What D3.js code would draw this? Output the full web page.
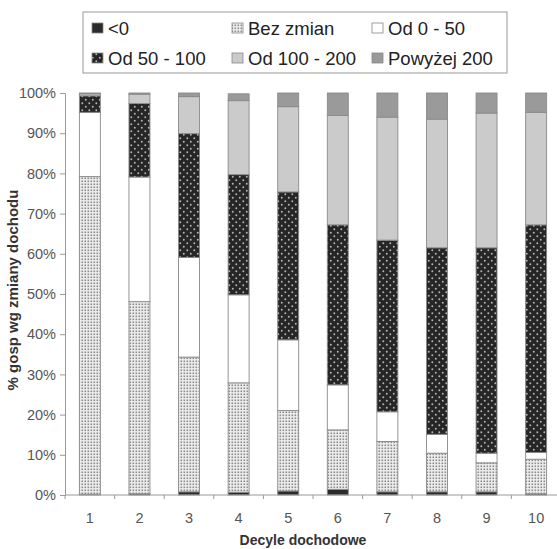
<!DOCTYPE html>
<html><head><meta charset="utf-8">
<script src="https://cdn.jsdelivr.net/npm/d3@7"></script>
<style>body{margin:0;background:#fff;}svg{display:block;font-family:"Liberation Sans",Arial,sans-serif;}</style>
</head><body><svg id="c" width="557" height="549"></svg>
<script>
const categories = ["1","2","3","4","5","6","7","8","9","10"];
const seriesNames = ["<0","Bez zmian","Od 0 - 50","Od 50 - 100","Od 100 - 200","Powyżej 200"];
const below0    = [0.2, 0.3, 0.8, 0.7, 1.0, 1.4, 0.8, 0.8, 0.8, 0.3];
const bezZmian  = [79.0, 47.8, 33.5, 27.2, 20.0, 14.8, 12.5, 9.6, 7.2, 8.6];
const od0_50    = [16.0, 31.0, 24.8, 21.9, 17.6, 11.2, 7.4, 4.7, 2.4, 1.7];
const od50_100  = [4.1, 18.3, 30.8, 29.9, 36.8, 39.8, 42.7, 46.4, 51.1, 56.6];
const od100_200 = [0.5, 2.3, 9.2, 18.4, 21.2, 27.2, 30.6, 32.0, 33.5, 28.0];
const above200  = [0.2, 0.3, 0.9, 1.7, 3.4, 5.6, 6.0, 6.5, 5.0, 4.8];
const yTicks = [0,10,20,30,40,50,60,70,80,90,100];

const seriesVals = [below0, bezZmian, od0_50, od50_100, od100_200, above200];
const keys = seriesNames;
const table = categories.map((c,i)=>{const o={cat:c}; keys.forEach((k,j)=>o[k]=seriesVals[j][i]); return o;});
const stack = d3.stack().keys(keys)(table);

const svg = d3.select("#c");
const defs = svg.append("defs");
// Bez zmian: fine grey stipple
const p1 = defs.append("pattern").attr("id","pBez").attr("width",3).attr("height",3).attr("patternUnits","userSpaceOnUse");
p1.append("rect").attr("width",3).attr("height",3).attr("fill","#eeeeee");
p1.append("rect").attr("x",0.5).attr("y",0.5).attr("width",1.6).attr("height",1.6).attr("fill","#8c8c8c");
// Od 50-100: dark with light dots
const p2 = defs.append("pattern").attr("id","pDark").attr("width",7).attr("height",7).attr("patternUnits","userSpaceOnUse");
p2.append("rect").attr("width",7).attr("height",7).attr("fill","#262626");
p2.append("circle").attr("cx",1.8).attr("cy",1.8).attr("r",0.95).attr("fill","#b5b5b5");
p2.append("circle").attr("cx",5.3).attr("cy",5.3).attr("r",0.95).attr("fill","#b5b5b5");

const fills = ["#2b2b2b","url(#pBez)","#ffffff","url(#pDark)","#cbcbcb","#9a9a9a"];

const x = d3.scaleBand().domain(categories).range([65,561]).paddingInner(0.577).paddingOuter(0.29);
const y = d3.scaleLinear().domain([0,100]).range([495,93]);

// bars
stack.forEach((s,j)=>{
  svg.append("g").selectAll("rect").data(s).join("rect")
    .attr("x",d=>x(d.data.cat)).attr("width",x.bandwidth())
    .attr("y",d=>y(d[1])).attr("height",d=>Math.max(0,y(d[0])-y(d[1])))
    .attr("fill",fills[j]).attr("stroke","#8a8a8a").attr("stroke-width",0.9);
});

// y axis
const yAxis = svg.append("g").attr("transform","translate(65,0)")
  .call(d3.axisLeft(y).tickValues(yTicks).tickFormat(d=>d+"%").tickSize(5).tickPadding(4));
yAxis.select(".domain").attr("stroke","#999");
yAxis.selectAll(".tick line").attr("stroke","#999");
yAxis.selectAll("text").attr("fill","#555").attr("font-size","14.5px").attr("font-family","Liberation Sans, Arial, sans-serif");

// x axis
const step = x.step();
const xg = svg.append("g");
xg.append("line").attr("x1",65).attr("x2",561).attr("y1",y(0)).attr("y2",y(0)).attr("stroke","#999");
xg.selectAll("line.t").data(categories).join("line").attr("class","t")
  .attr("x1",d=>x(d)+x.bandwidth()/2-step/2).attr("x2",d=>x(d)+x.bandwidth()/2-step/2)
  .attr("y1",y(0)).attr("y2",y(0)+4).attr("stroke","#999");
xg.selectAll("text").data(categories).join("text")
  .attr("x",d=>x(d)+x.bandwidth()/2).attr("y",y(0)+28)
  .attr("text-anchor","middle").attr("fill","#555").attr("font-size","14.5px").text(d=>d);

// titles
svg.append("text").attr("x",303).attr("y",545).attr("text-anchor","middle")
  .attr("font-weight","bold").attr("font-size","14px").attr("fill","#333").text("Decyle dochodowe");
svg.append("text").attr("transform","translate(18,290) rotate(-90)").attr("text-anchor","middle")
  .attr("font-weight","bold").attr("font-size","15px").attr("fill","#333").text("% gosp wg zmiany dochodu");

// legend
svg.append("rect").attr("x",83).attr("y",12).attr("width",424).attr("height",61)
  .attr("fill","#fff").attr("stroke","#999").attr("stroke-width",1);
const colX = [92,232,372], rowY = [23,53];
seriesNames.forEach((n,i)=>{
  const cx = colX[i%3], ry = rowY[Math.floor(i/3)];
  svg.append("rect").attr("x",cx).attr("y",ry).attr("width",11).attr("height",10)
    .attr("fill",fills[i]).attr("stroke","#888").attr("stroke-width",0.8);
  svg.append("text").attr("x",cx+16).attr("y",ry+11.5).attr("font-size","18.5px").attr("fill","#222").text(n);
});
</script></body></html>
